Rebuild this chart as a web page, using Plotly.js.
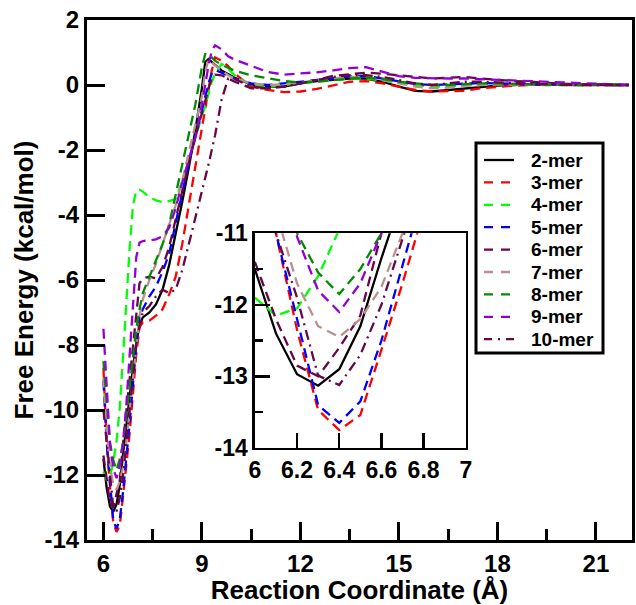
<!DOCTYPE html>
<html><head><meta charset="utf-8">
<script src="https://cdn.plot.ly/plotly-3.0.1.min.js"></script>
<style>html,body{margin:0;padding:0;background:#fff}</style>
</head><body>
<div id="chart" style="width:636px;height:605px"></div>
<script>
// Reaction coordinate (Å)
const reactionCoord = [6.0, 6.1, 6.2, 6.3, 6.4, 6.5, 6.6, 6.7, 6.8, 6.9, 7.0, 7.1, 7.2, 7.4, 7.6, 7.8, 8.0, 8.2, 8.4, 8.6, 8.8, 9.0, 9.1, 9.2, 9.3, 9.4, 9.6, 9.8, 10.0, 10.5, 11.0, 11.5, 12.0, 12.5, 13.0, 13.5, 14.0, 14.5, 15.0, 15.5, 16.0, 16.5, 17.0, 17.5, 18.0, 18.5, 19.0, 19.5, 20.0, 20.5, 21.0, 21.5, 22.0];

// Free energy (kcal/mol) per oligomer
const mer2 = [-11.5, -12.4, -12.97, -13.13, -12.9, -12.3, -11.35, -10.4, -9.5, -8.7, -7.95, -7.4, -7.15, -7.0, -6.75, -6.3, -5.55, -4.6, -3.6, -2.55, -1.4, -0.1, 0.7, 0.8, 0.7, 0.62, 0.45, 0.33, 0.22, 0.02, -0.05, -0.05, 0.05, 0.12, 0.17, 0.2, 0.2, 0.1, -0.05, -0.18, -0.2, -0.15, -0.1, -0.05, -0.02, 0.0, 0.02, 0.0, 0.02, 0.0, 0.02, 0.0, 0.0];
const mer3 = [-8.7, -11.0, -12.35, -13.47, -13.75, -13.54, -12.63, -11.7, -10.7, -9.5, -8.3, -7.45, -7.3, -7.25, -7.1, -6.9, -6.45, -5.9, -4.9, -3.7, -2.5, -1.4, -0.8, -0.2, 0.45, 0.85, 0.75, 0.58, 0.35, -0.05, -0.15, -0.22, -0.2, -0.12, 0.0, 0.1, 0.12, 0.05, -0.05, -0.15, -0.2, -0.2, -0.18, -0.1, -0.05, -0.02, 0.0, 0.02, 0.0, 0.0, 0.02, 0.0, 0.0];
const mer4 = [-11.9, -12.15, -12.05, -11.6, -10.95, -9.9, -8.3, -6.6, -5.0, -3.7, -3.25, -3.22, -3.28, -3.45, -3.55, -3.6, -3.57, -3.5, -2.95, -2.3, -1.6, -0.95, -0.65, -0.3, 0.1, 0.35, 0.65, 0.5, 0.3, 0.0, -0.05, 0.0, 0.05, 0.1, 0.15, 0.2, 0.2, 0.15, 0.08, 0.0, -0.05, -0.05, 0.0, 0.02, 0.03, 0.02, 0.02, 0.0, 0.0, 0.01, 0.0, 0.0, 0.0];
const mer5 = [-9.1, -11.0, -12.2, -13.4, -13.65, -13.35, -12.5, -11.5, -10.4, -9.2, -8.0, -7.15, -6.9, -6.5, -6.2, -5.75, -5.2, -4.25, -3.3, -2.4, -1.6, -0.8, -0.35, 0.05, 0.35, 0.46, 0.38, 0.3, 0.2, 0.05, 0.0, 0.05, 0.1, 0.15, 0.2, 0.26, 0.28, 0.2, 0.1, 0.03, 0.0, 0.02, 0.05, 0.06, 0.05, 0.03, 0.02, 0.02, 0.01, 0.0, 0.0, 0.0, 0.0];
const mer6 = [-11.4, -12.2, -12.85, -13.0, -12.6, -12.15, -11.0, -10.0, -9.0, -7.9, -6.9, -6.1, -5.95, -5.9, -5.95, -5.6, -5.0, -4.1, -3.2, -2.4, -1.6, -0.9, -0.5, -0.1, 0.2, 0.32, 0.3, 0.2, 0.1, -0.1, -0.1, -0.05, 0.05, 0.15, 0.28, 0.32, 0.38, 0.35, 0.3, 0.25, 0.2, 0.22, 0.25, 0.2, 0.15, 0.12, 0.1, 0.06, 0.04, 0.02, 0.02, 0.0, 0.0];
const mer7 = [-9.0, -10.7, -11.7, -12.3, -12.45, -12.2, -11.75, -11.0, -10.0, -9.0, -8.0, -7.1, -6.6, -6.0, -5.5, -4.9, -4.3, -3.7, -2.95, -2.1, -1.3, -0.35, 0.4, 0.78, 0.7, 0.6, 0.45, 0.3, 0.2, 0.05, 0.0, 0.02, 0.08, 0.15, 0.2, 0.25, 0.25, 0.15, 0.05, -0.05, -0.1, -0.08, -0.03, 0.0, 0.02, 0.02, 0.01, 0.0, 0.0, 0.0, 0.0, 0.0, 0.0];
const mer8 = [-8.5, -9.9, -11.0, -11.55, -11.85, -11.5, -11.0, -10.2, -9.3, -8.4, -7.5, -6.9, -6.4, -5.9, -5.4, -4.9, -4.3, -3.35, -2.45, -1.55, -0.6, 0.55, 0.95, 0.95, 0.85, 0.75, 0.62, 0.52, 0.44, 0.3, 0.22, 0.12, 0.08, 0.1, 0.15, 0.2, 0.22, 0.18, 0.1, 0.05, 0.0, 0.0, 0.03, 0.05, 0.05, 0.03, 0.02, 0.01, 0.0, 0.0, 0.0, 0.0, 0.0];
const mer9 = [-7.5, -9.3, -11.05, -11.8, -12.1, -11.7, -11.0, -9.8, -8.3, -6.7, -5.3, -4.85, -4.8, -4.78, -4.75, -4.65, -4.4, -3.8, -3.0, -2.3, -1.6, -0.6, 0.0, 0.6, 1.05, 1.22, 1.1, 0.88, 0.78, 0.6, 0.4, 0.32, 0.35, 0.39, 0.45, 0.52, 0.55, 0.4, 0.27, 0.22, 0.2, 0.2, 0.2, 0.18, 0.15, 0.12, 0.1, 0.08, 0.06, 0.04, 0.03, 0.01, 0.0];
const mer10 = [-10.0, -11.0, -11.9, -12.99, -13.12, -12.7, -12.0, -11.0, -10.0, -9.0, -8.0, -7.4, -7.0, -6.8, -6.5, -6.3, -6.4, -6.3, -5.7, -4.9, -4.1, -3.3, -2.9, -2.45, -2.0, -1.55, -0.45, 0.2, 0.18, -0.05, -0.1, -0.05, 0.05, 0.15, 0.25, 0.3, 0.3, 0.25, 0.15, 0.05, 0.0, 0.05, 0.1, 0.1, 0.08, 0.05, 0.03, 0.02, 0.01, 0.0, 0.0, 0.0, 0.0];

const seriesNames = ['2-mer', '3-mer', '4-mer', '5-mer', '6-mer', '7-mer', '8-mer', '9-mer', '10-mer'];
const seriesValues = [mer2, mer3, mer4, mer5, mer6, mer7, mer8, mer9, mer10];
const seriesColors = ['#000000', '#ff0000', '#00ff00', '#0000ff', '#670748', '#bc8f8f', '#008b00', '#9400d3', '#670748'];
const seriesDash = ['solid', '10px,6px', '10px,6px', '10px,6px', '10px,6px', '10px,6px', '10px,6px', '10px,6px', '10px,5px,2px,5px'];

const mainYTickVals = [-14, -12, -10, -8, -6, -4, -2, 0, 2];
const mainYTickText = ['-14', '-12', '-10', '-8', '-6', '-4', '-2', '0', '2'];
const insetYTickVals = [-14, -13, -12, -11];
const insetYTickText = ['-14', '-13', '-12', '-11'];

const FONT = 'Liberation Sans, Arial, Helvetica, sans-serif';
const W = 636, H = 605, ML = 87, MR = 4, MT = 20, MB = 65;
const PW = W - ML - MR, PH = H - MT - MB;
const px2x = px => (px - ML) / PW;
const py2y = py => (H - MB - py) / PH;

const traces = [];
seriesNames.forEach((name, i) => {
  traces.push({
    x: reactionCoord, y: seriesValues[i], type: 'scatter', mode: 'lines', name: name,
    line: {color: seriesColors[i], width: 2.3, dash: seriesDash[i]},
    xaxis: 'x', yaxis: 'y', showlegend: false, hoverinfo: 'skip'
  });
});
seriesNames.forEach((name, i) => {
  traces.push({
    x: reactionCoord, y: seriesValues[i], type: 'scatter', mode: 'lines', name: name,
    line: {color: seriesColors[i], width: 2.3, dash: seriesDash[i]},
    xaxis: 'x2', yaxis: 'y2', showlegend: false, hoverinfo: 'skip'
  });
});

// Legend box drawn with shapes/annotations
const shapes = [{
  type: 'rect', xref: 'paper', yref: 'paper',
  x0: px2x(476), x1: px2x(603), y0: py2y(353), y1: py2y(143),
  line: {color: '#000', width: 3}, fillcolor: '#ffffff', layer: 'above'
}];
const annotations = [];
seriesNames.forEach((name, i) => {
  const yy = py2y(160 + i * 22.4);
  shapes.push({
    type: 'line', xref: 'paper', yref: 'paper',
    x0: px2x(484), x1: px2x(514), y0: yy, y1: yy,
    line: {color: seriesColors[i], width: 2.3, dash: i === 0 ? 'solid' : (i === 8 ? '8px,6px,2px,6px' : '9px,8px')},
    layer: 'above'
  });
  annotations.push({
    xref: 'paper', yref: 'paper', x: px2x(529), y: yy,
    xanchor: 'left', yanchor: 'middle', showarrow: false,
    text: name, font: {family: FONT, size: 19, weight: 'bold', color: '#000'}
  });
});

const layout = {
  width: W, height: H,
  margin: {l: ML, r: MR, t: MT, b: MB},
  paper_bgcolor: '#ffffff', plot_bgcolor: '#ffffff',
  font: {family: FONT, color: '#000000'},
  showlegend: false,
  shapes: shapes, annotations: annotations,
  xaxis: {
    domain: [0, 1], anchor: 'y', range: [5.5, 22.1],
    tickmode: 'linear', tick0: 6, dtick: 3,
    ticks: 'inside', ticklen: 18, tickwidth: 3, tickcolor: '#000',
    minor: {tickmode: 'linear', tick0: 6, dtick: 1.5, ticks: 'inside', ticklen: 11, tickwidth: 3, tickcolor: '#000'},
    showline: true, linewidth: 3, linecolor: '#000', mirror: true,
    showgrid: false, zeroline: false,
    tickfont: {family: FONT, size: 24, weight: 'bold'},
    title: {text: 'Reaction Coordinate (Å)', font: {family: FONT, size: 26, weight: 'bold'}, standoff: 6}
  },
  yaxis: {
    domain: [0, 1], anchor: 'x', range: [-14, 2],
    tickmode: 'array', tickvals: mainYTickVals, ticktext: mainYTickText,
    ticks: 'inside', ticklen: 18, tickwidth: 3, tickcolor: '#000',
    showline: true, linewidth: 3, linecolor: '#000', mirror: true,
    showgrid: false, zeroline: false,
    tickfont: {family: FONT, size: 24, weight: 'bold'},
    title: {text: 'Free Energy (kcal/mol)', font: {family: FONT, size: 26, weight: 'bold'}, standoff: 4}
  },
  xaxis2: {
    domain: [0.308, 0.695], anchor: 'y2', range: [6, 7],
    tickmode: 'linear', tick0: 6, dtick: 0.2,
    ticks: 'inside', ticklen: 15, tickwidth: 2.5, tickcolor: '#000',
    showline: true, linewidth: 2.5, linecolor: '#000', mirror: true,
    showgrid: false, zeroline: false,
    tickfont: {family: FONT, size: 23, weight: 'bold'}
  },
  yaxis2: {
    domain: [0.177, 0.590], anchor: 'x2', range: [-14, -11],
    tickmode: 'array', tickvals: insetYTickVals, ticktext: insetYTickText,
    ticks: 'inside', ticklen: 15, tickwidth: 2.5, tickcolor: '#000',
    minor: {tickmode: 'linear', tick0: -14, dtick: 0.5, ticks: 'inside', ticklen: 8, tickwidth: 2.5, tickcolor: '#000'},
    showline: true, linewidth: 2.5, linecolor: '#000', mirror: true,
    showgrid: false, zeroline: false,
    tickfont: {family: FONT, size: 23, weight: 'bold'}
  }
};

Plotly.newPlot('chart', traces, layout, {displayModeBar: false, staticPlot: true});
</script>
</body></html>
